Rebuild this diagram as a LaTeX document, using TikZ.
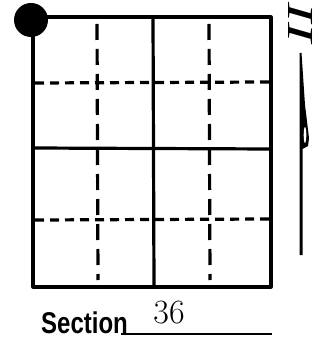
\documentclass[tikz,border=0pt]{standalone}
\usepackage{fontspec}
\newfontfamily\timesf{Liberation Serif}
\newfontfamily\arialf{Liberation Sans}
\begin{document}
\begin{tikzpicture}[x=1pt,y=-1pt,
  solidline/.style={line width=3.2pt,line cap=round,line join=round},
  hdash/.style={line width=3.2pt,dash pattern=on 9pt off 6pt},
  vdash/.style={line width=3.2pt,dash pattern=on 16pt off 9pt}]
\useasboundingbox (0,0) rectangle (324,344);
% corners
\coordinate (tl) at (33,17);
\coordinate (tr) at (271,17);
\coordinate (br) at (271,287);
\coordinate (bl) at (33,287);
% dashed lines
\draw[hdash] (35,83) -- (269,82);
\draw[hdash] (35,220) -- (269,219);
\draw[vdash] (97,24) -- (98,280);
\draw[vdash] (209,24) -- (210,280);
% solid grid
\draw[solidline] (tl) -- (tr) -- (br) -- (bl) -- cycle;
\draw[solidline] (153,17) -- (154,287);
\draw[solidline] (33,148) -- (271,149);
% dot
\node[circle,fill=black,minimum size=34pt,inner sep=0pt] (dot) at (31,20) {};
% rotated numeral
\node[inner sep=0pt] (num) at (300,23) {\rotatebox{-90}{\resizebox{40pt}{24pt}{\timesf\itshape II}}};
% blade line
\fill (299.5,53) -- (301.5,53) -- (305,105) -- (309,138) -- (308,146) -- (302.5,149) -- (302.5,255) -- (299.5,255) -- cycle;
\fill[white] (305,135) ellipse (1.3 and 8);
% section label
\node[inner sep=0pt,anchor=base west,xscale=0.8] (sec) at (41,333) {\arialf\bfseries\fontsize{30}{30}\selectfont Section};
\coordinate (ulA) at (121,334);
\coordinate (ulB) at (272,334);
\draw[line width=2.4pt] (ulA) -- (ulB);
\node[inner sep=0pt] (n36) at (169,313) {\fontsize{34}{34}\selectfont 36};
\end{tikzpicture}
\end{document}
